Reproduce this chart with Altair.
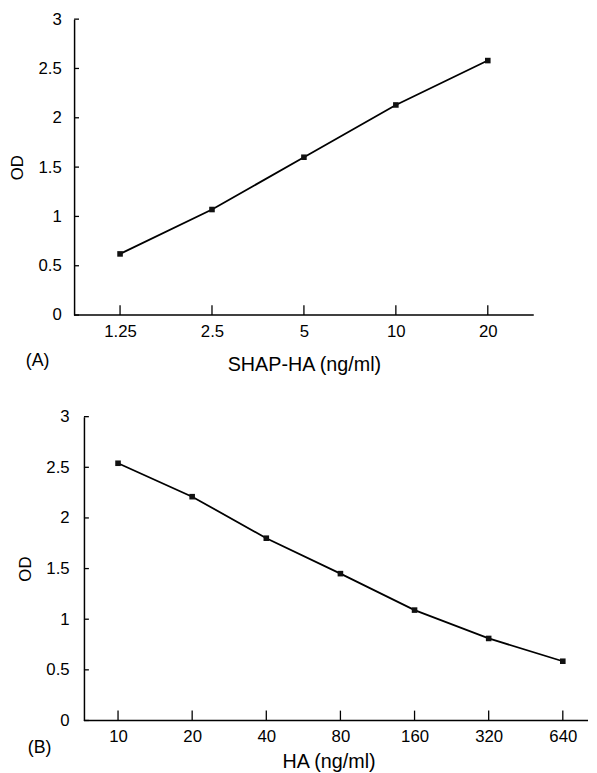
import altair as alt
import pandas as pd

# ---- data ----
a_conc = ["1.25", "2.5", "5", "10", "20"]
a_od = [0.62, 1.07, 1.60, 2.13, 2.58]

b_conc = ["10", "20", "40", "80", "160", "320", "640"]
b_od = [2.54, 2.21, 1.80, 1.45, 1.09, 0.81, 0.585]

y_ticks = [0, 0.5, 1, 1.5, 2, 2.5, 3]

FONT = "Liberation Sans"


def panel(conc, od, xtitle, label, W, H, pad, lab_pad_x, title_pad_x,
          lab_pad_y, title_pad_y, label_xy, shift=0, rstart=0, title_x=None):
    df = pd.DataFrame({"conc": conc, "od": od})
    xaxis_kw = dict(title=xtitle, ticks=False, labelAngle=0, labelFontSize=17,
                    labelPadding=lab_pad_x, titleFontSize=20,
                    titleFontWeight="normal", titlePadding=title_pad_x,
                    domain=False, labelColor="black",
                    titleColor="black", grid=False, labelFont=FONT,
                    titleFont=FONT)
    if title_x is not None:
        xaxis_kw["titleX"] = title_x
    if rstart:
        xscale = alt.Scale(type="point", padding=pad, range=[rstart, W])
    else:
        xscale = alt.Scale(type="point", padding=pad)
    xs = alt.X("conc:N", sort=conc, scale=xscale, axis=alt.Axis(**xaxis_kw))
    yaxis_kw = dict(values=y_ticks, format="~g", title="OD", ticks=False,
                    labelFontSize=17, labelPadding=lab_pad_y,
                    titleFontSize=17, titleFontWeight="normal",
                    titlePadding=title_pad_y, domainColor="black",
                    domainWidth=1.5, labelColor="black",
                    titleColor="black", grid=False, labelFont=FONT,
                    titleFont=FONT)
    if shift:
        yaxis_kw["offset"] = -shift
    ys = alt.Y("od:Q", scale=alt.Scale(domain=[0, 3], nice=False),
               axis=alt.Axis(**yaxis_kw))
    xp = alt.X("conc:N", sort=conc)
    yp = alt.Y("od:Q")

    base = alt.Chart(df)
    line = base.mark_line(color="black", strokeWidth=1.8).encode(x=xs, y=ys)
    pts = base.mark_square(color="#111", size=32, opacity=1).encode(x=xp, y=yp)

    # x baseline (axis line) from the y axis to the right end of the panel
    baseline = alt.Chart(pd.DataFrame({"t": [0]})).mark_rule(
        color="black", strokeWidth=1.5).encode(
        x=alt.value(shift), x2=alt.value(W), y=alt.value(H))
    xt = alt.Chart(pd.DataFrame({"conc": conc})).mark_rule(
        color="black", strokeWidth=1.3).encode(
        x=xp, y=alt.value(H - 10), y2=alt.value(H))
    yt = alt.Chart(pd.DataFrame({"od": y_ticks})).mark_rule(
        color="black", strokeWidth=1.3).encode(
        y=yp, x=alt.value(shift), x2=alt.value(shift + 5))
    lab = alt.Chart(pd.DataFrame({"t": [label]})).mark_text(
        font=FONT, fontSize=18, color="black", align="center",
        baseline="middle").encode(
        text="t:N", x=alt.value(label_xy[0]), y=alt.value(label_xy[1]))
    return alt.layer(line, baseline, xt, yt, pts, lab).properties(
        width=W, height=H)


pa = panel(a_conc, a_od, "SHAP-HA (ng/ml)", "(A)", 466, 300, 0.5,
           9, 15, 13, 12, (-37, 347))
pb = panel(b_conc, b_od, "HA (ng/ml)", "(B)", 521, 308, 0.34,
           8, 8, 15, 12, (-35, 336), shift=10, rstart=19, title_x=258)

chart = alt.vconcat(pa, pb, spacing=34).properties(
    padding={"left": 0, "top": -3, "right": 0, "bottom": 0}
).configure(font=FONT).configure_view(stroke=None)

chart.save("out.html", embed_options={"renderer": "svg", "actions": False})
